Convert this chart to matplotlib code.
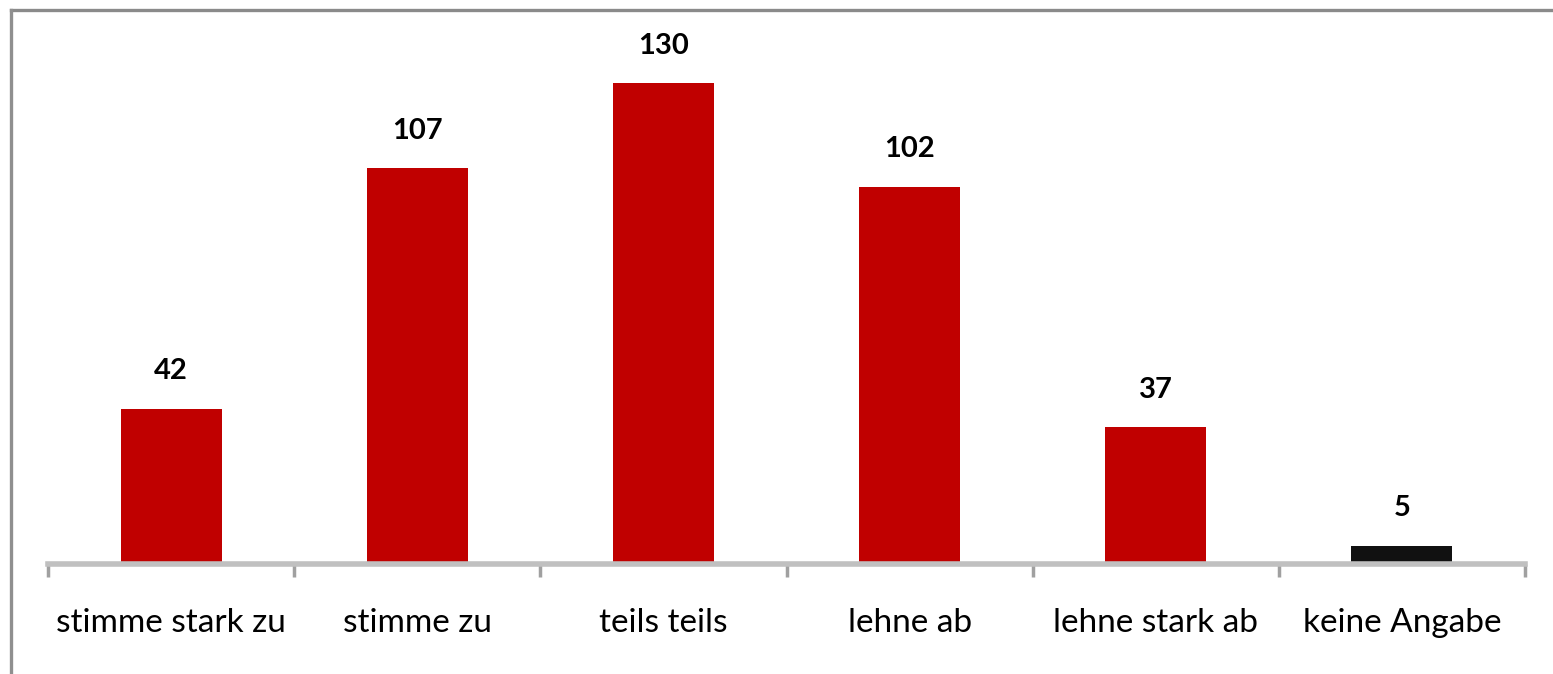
import matplotlib
matplotlib.use("Agg")
import matplotlib.pyplot as plt
from matplotlib.lines import Line2D
import numpy as np

# survey answers
categories = ["stimme stark zu", "stimme zu", "teils teils", "lehne ab", "lehne stark ab", "keine Angabe"]
counts = [42, 107, 130, 102, 37, 5]
bar_colors = ["#c00000", "#c00000", "#c00000", "#c00000", "#c00000", "#111111"]

W, H = 1553, 674
fig = plt.figure(figsize=(W / 100, H / 100), dpi=100)
fig.patch.set_facecolor("white")

# axes placement in pixels (left, baseline, right, top)
x0, x1 = 48, 1525
y_base, y_top = 564, 9
ax = fig.add_axes([x0 / W, (H - y_base) / H, (x1 - x0) / W, (y_base - y_top) / H])

x = np.arange(len(categories))
bars = ax.bar(x, counts, width=0.41, color=bar_colors, zorder=2)

for xi, v in zip(x, counts):
    ax.annotate(str(v), (xi, v), xytext=(0, 27), textcoords="offset points",
                ha="center", va="center", fontsize=21, fontweight="bold",
                family="Lato", color="black")

ax.set_xlim(-0.5, len(categories) - 0.5)
ax.set_ylim(0, 150)

for s in ["top", "right", "left"]:
    ax.spines[s].set_visible(False)
ax.spines["bottom"].set_color("#c0c0c0")
ax.spines["bottom"].set_linewidth(4)
ax.spines["bottom"].set_zorder(3)

ax.set_yticks([])
ax.set_xticks(x)
ax.set_xticklabels(categories, fontsize=24, family="Lato", color="black")
ax.tick_params(axis="x", which="major", length=0, pad=32)
ax.set_xticks(np.arange(-0.5, len(categories)), minor=True)
ax.tick_params(axis="x", which="minor", length=9, width=2.5, color="#a0a0a0", direction="out")

# frame around the chart (only top and left visible in the crop)
fig.add_artist(Line2D([10.5 / W, 1.0], [(H - 9.5) / H, (H - 9.5) / H], color="#8a8a8a", lw=2.4, transform=fig.transFigure))
fig.add_artist(Line2D([10.5 / W, 10.5 / W], [0, (H - 9.5) / H], color="#8f8f8f", lw=2.4, transform=fig.transFigure))

fig.savefig("out.png", dpi=100, facecolor="white")
